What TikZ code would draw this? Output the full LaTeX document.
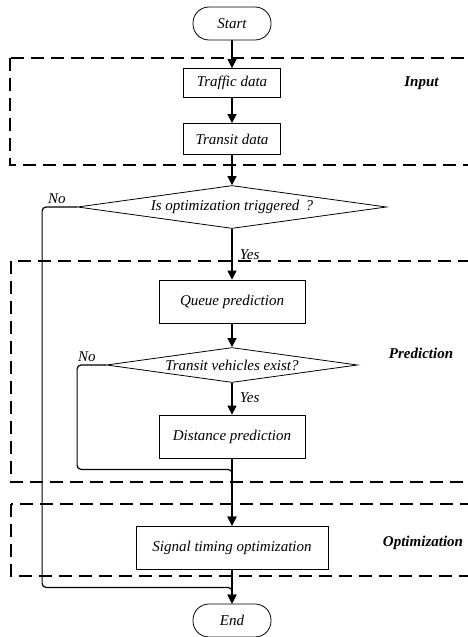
\documentclass[tikz,border=0pt]{standalone}
\usepackage{fontspec}
\setmainfont{Liberation Serif}
\usepackage{tikz}
\usetikzlibrary{shapes,arrows.meta}
\tikzstyle{decision} = [diamond, draw, aspect=7, inner sep=0pt, line width=0.8pt,
font=\fontsize{15}{18}\selectfont\itshape]
\tikzstyle{block} = [rectangle, draw, minimum height=43pt, line width=0.8pt,
font=\fontsize{15}{18}\selectfont\itshape]
\tikzstyle{term} = [rectangle, draw, rounded corners=16pt, minimum width=78pt,
minimum height=33pt, line width=0.8pt, font=\fontsize{15}{18}\selectfont\itshape]
\tikzstyle{line} = [draw, line width=1.2pt, -{Triangle[length=9pt,width=9pt]}]
\tikzstyle{group} = [draw, line width=2pt, dash pattern=on 13pt off 7pt]
\tikzstyle{tag} = [font=\fontsize{15}{18}\selectfont\bfseries\itshape]
\tikzstyle{answer} = [font=\fontsize{15}{18}\selectfont\itshape]

\begin{document}
\begin{tikzpicture}[x=1pt, y=-1pt]
\clip (0,0) rectangle (468,637);

% Place nodes
\node [term] (start) at (232,23.5) {Start};
\node [block, below of=start, node distance=59.5pt, minimum width=97pt,
minimum height=29pt] (traffic) {Traffic data};
\node [block, below of=traffic, node distance=56pt, minimum width=97pt,
minimum height=31pt] (transit) {Transit data};
\node [decision, below of=transit, node distance=68pt, minimum width=309pt,
minimum height=43pt] (optim) {Is optimization triggered \,?};
\node [block, below of=optim, node distance=94.5pt, minimum width=146pt] (queue) {Queue prediction};
\node [decision, below of=queue, node distance=63.5pt, minimum width=251pt,
minimum height=35pt] (exist) {Transit vehicles exist?};
\node [block, below of=exist, node distance=71.5pt, minimum width=146pt] (distance) {Distance prediction};
\node [block, below of=distance, node distance=111pt, minimum width=192pt] (signal) {Signal timing optimization};
\node [term, below of=signal, node distance=73pt] (end) {End};
\coordinate (merge2) at ([yshift=-11pt]distance.south);
\coordinate (merge1) at ([yshift=-18pt]signal.south);

% Dashed groups
\path [group] (10,58) rectangle (490,165);
\path [group] (11,261) rectangle (490,482);
\path [group] (11,504) rectangle (490,576);
\node [tag] (input) at (421.5,83) {Input};
\node [tag] (predict) at (421,353) {Prediction};
\node [tag] (optimize) at (423,543) {Optimization};

% Draw edges
\path [line] (start) -- (traffic);
\path [line] (traffic) -- (transit);
\path [line] (transit) -- (optim);
\path [line] (optim) -- node [answer, right, pos=0.5, xshift=4pt] {Yes} (queue);
\path [line] (queue) -- (exist);
\path [line] (exist) -- node [answer, right, pos=0.45, xshift=4pt] {Yes} (distance);
\path [line] (distance) -- (signal);
\path [line] (signal) -- (end);
\path [line, rounded corners=4pt] (exist.west) -- ++(-29,0) |- (merge2) -- (signal.north);
\path [line, rounded corners=4pt] (optim.west) -- ++(-35,0) |- (merge1) -- (end.north);
\node [answer, above left, xshift=-8pt] at (optim.west) {No};
\node [answer, above left, xshift=-7pt] at (exist.west) {No};
\end{tikzpicture}
\end{document}
